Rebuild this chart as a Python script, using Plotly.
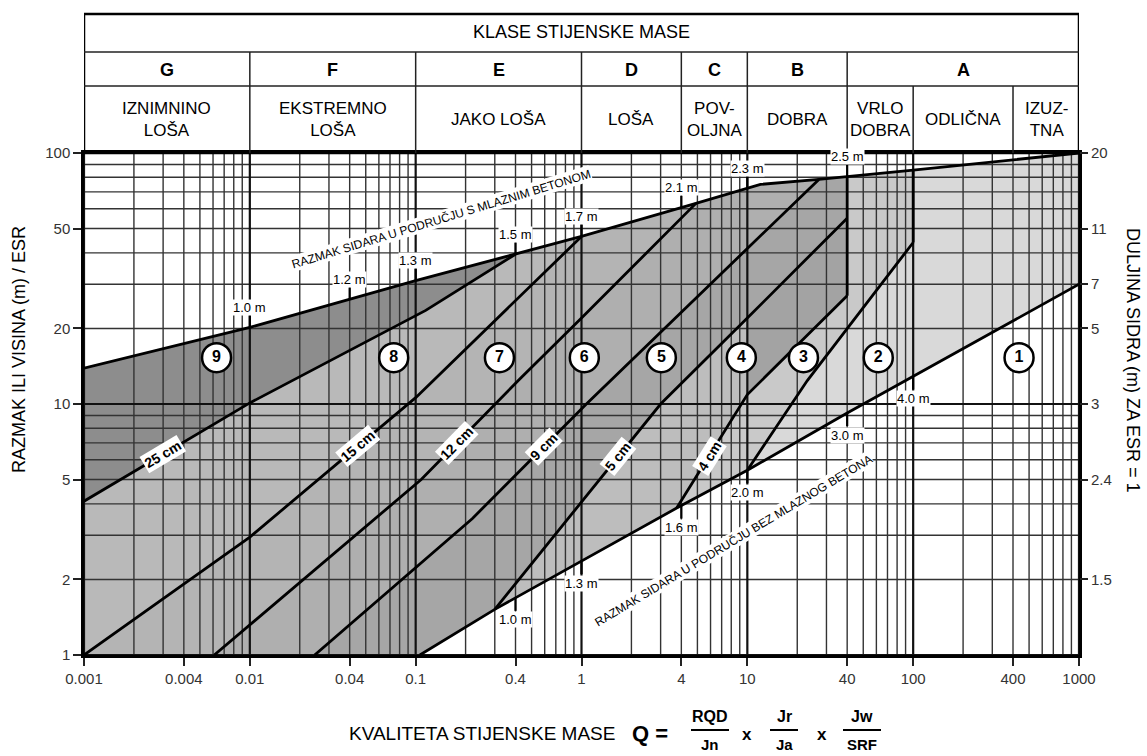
"""Q-sustav: dijagram podgrade (razmak ili visina / ESR prema kvaliteti Q)."""

import numpy as np
import plotly.graph_objects as go

FONT = "Arial, 'Liberation Sans', Helvetica, sans-serif"

# plot area inside the 1147 x 756 page
W, H = 1147, 756
ML, MR, MT, MB = 84, 68, 153, 101
PX_X = (W - ML - MR) / 6.0      # px per decade of Q
PX_Y = (H - MT - MB) / 2.0      # px per decade of spacing

# ---- granice (Q, razmak/ESR) ----
TOP_Q = [0.001, 0.01, 0.1, 0.4, 1, 4.9, 12, 27, 40, 100, 1000]
TOP_H = [13.9, 20.2, 31, 39.5, 46.5, 63, 75, 78.5, 80.5, 85.5, 100]

LOW_Q = [0.106, 0.3, 3.75, 10, 40, 1000]
LOW_H = [1, 1.52, 3.85, 5.45, 9.2, 30]

LA_Q = [0.001, 0.01, 0.115, 0.4]            # 25 cm
LA_H = [4.1, 10.1, 23.6, 39.5]
LB_Q = [0.001, 0.01, 0.1, 1]                # 15 cm
LB_H = [1, 2.95, 10.6, 46.5]
LC_Q = [0.0061, 0.108, 0.42, 1, 4.9]        # 12 cm
LC_H = [1, 5.0, 12.5, 22, 63]
LD_Q = [0.0246, 0.22, 1.07, 27]             # 9 cm
LD_H = [1, 3.5, 10, 78.5]
LE_Q = [0.3, 3.0, 10, 40]                   # 5 cm
LE_H = [1.52, 10, 22, 55]
LF_Q = [3.75, 10, 40]                       # 4 cm
LF_H = [3.85, 10.9, 27]
LG_Q = [10, 23, 100]
LG_H = [5.45, 12.4, 44]
V40_Q, V40_H = [40, 40], [27, 80.5]
V100_Q, V100_H = [100, 100], [44, 85.5]

# oznake razmaka sidara na granicama
TOP_TICK_Q = [0.01, 0.04, 0.1, 0.4, 1, 4, 10, 40]
TOP_TICK_TXT = ["1.0 m", "1.2 m", "1.3 m", "1.5 m", "1.7 m", "2.1 m", "2.3 m", "2.5 m"]
LOW_TICK_Q = [0.4, 1, 4, 10, 40, 100]
LOW_TICK_TXT = ["1.0 m", "1.3 m", "1.6 m", "2.0 m", "3.0 m", "4.0 m"]

# debljine mlaznog betona uz linije
CM_TXT = ["25 cm", "15 cm", "12 cm", "9 cm", "5 cm", "4 cm"]
CM_Q = [0.003, 0.0448, 0.177, 0.59, 1.67, 5.9]

# kategorije podgrade
CAT_N = ["9", "8", "7", "6", "5", "4", "3", "2", "1"]
CAT_Q = [0.0063, 0.0737, 0.32, 1.04, 3.03, 9.2, 21.8, 61.6, 435]
CAT_H = [15.3, 15.3, 15.3, 15.3, 15.3, 15.3, 15.3, 15.3, 15.3]

# osi
X_TICKS = [0.001, 0.004, 0.01, 0.04, 0.1, 0.4, 1, 4, 10, 40, 100, 400, 1000]
X_TXT = ["0.001", "0.004", "0.01", "0.04", "0.1", "0.4", "1", "4", "10", "40", "100", "400", "1000"]
Y_TICKS = [1, 2, 5, 10, 20, 50, 100]
R_TICKS = [2, 5, 10, 20, 30, 50, 100]
R_TXT = ["1.5", "2.4", "3", "5", "7", "11", "20"]

# zaglavlje
CLASS_TXT = ["G", "F", "E", "D", "C", "B", "A"]
CLASS_EDGES = [0.001, 0.01, 0.1, 1, 4, 10, 40, 1000]
DESC_TXT = ["IZNIMNINO<br>LOŠA", "EKSTREMNO<br>LOŠA", "JAKO LOŠA", "LOŠA", "POV-<br>OLJNA",
            "DOBRA", "VRLO<br>DOBRA", "ODLIČNA", "IZUZ-<br>TNA"]
DESC_EDGES = [0.001, 0.01, 0.1, 1, 4, 10, 40, 100, 400, 1000]


def xp(px):
    return (px - ML) / (W - ML - MR)


def yp(py):
    return (H - MB - py) / (H - MT - MB)


def on_line(qs, hs, q):
    return 10 ** np.interp(np.log10(q), np.log10(qs), np.log10(hs))


def angle(qs, hs, q):
    d = 0.03
    h0, h1 = on_line(qs, hs, q / 10 ** d), on_line(qs, hs, q * 10 ** d)
    dy = (np.log10(h1) - np.log10(h0)) * PX_Y
    return -np.degrees(np.arctan2(dy, 2 * d * PX_X))


def poly(*parts):
    q, h = [], []
    for pq, ph in parts:
        q += list(pq)
        h += list(ph)
    return q, h


def rev(q, h):
    return q[::-1], h[::-1]


def note(x, y, text, size, ref="paper", **kw):
    d = dict(xref=ref if ref == "paper" else "x", yref="paper" if ref == "paper" else "y",
             x=x, y=y, text=text, showarrow=False, xanchor="center", yanchor="middle",
             font=dict(size=size, color="black", family=FONT))
    d.update(kw)
    return d


fig = go.Figure()

regions = [
    (poly((LG_Q, LG_H), (TOP_Q[9:], TOP_H[9:]), rev(LOW_Q[3:], LOW_H[3:])), "#d9d9d9"),
    (poly((LF_Q, LF_H), (TOP_Q[8:10], TOP_H[8:10]), rev(LG_Q, LG_H), rev(LOW_Q[2:4], LOW_H[2:4])), "#c9c9c9"),
    (poly((LE_Q, LE_H), rev(LF_Q, LF_H), rev(LOW_Q[1:3], LOW_H[1:3])), "#bdbdbd"),
    (poly((LE_Q[2:], LE_H[2:]), rev(LF_Q[1:], LF_H[1:])), "#a3a3a3"),
    (poly((LD_Q, LD_H), (TOP_Q[7:9], TOP_H[7:9]), rev(LE_Q, LE_H), rev(LOW_Q[0:2], LOW_H[0:2])), "#a6a6a6"),
    (poly((LC_Q, LC_H), (TOP_Q[5:8], TOP_H[5:8]), rev(LD_Q, LD_H)), "#afafaf"),
    (poly((LB_Q, LB_H), (TOP_Q[4:6], TOP_H[4:6]), rev(LC_Q, LC_H)), "#b4b4b4"),
    (poly((LA_Q, LA_H), (TOP_Q[3:5], TOP_H[3:5]), rev(LB_Q, LB_H)), "#b9b9b9"),
    (poly((TOP_Q[0:4], TOP_H[0:4]), rev(LA_Q, LA_H)), "#8d8d8d"),
]
for (q, h), c in regions:
    fig.add_trace(go.Scatter(x=q, y=h, mode="lines", fill="toself", fillcolor=c,
                             line=dict(width=0), hoverinfo="skip", showlegend=False))

# mreža (iznad sjenčanja, kao u originalu)
GRID_Q = [m * 10.0 ** e for e in range(-3, 3) for m in range(1, 10)] + [1000]
GRID_H = [m * 10.0 ** e for e in range(0, 2) for m in range(1, 10)] + [100]
for major in (False, True):
    gx, gy = [], []
    for q in GRID_Q:
        if (abs(np.log10(q) - round(np.log10(q))) < 1e-9) == major:
            gx += [q, q, None]
            gy += [1, 100, None]
    for h in GRID_H:
        if (abs(np.log10(h) - round(np.log10(h))) < 1e-9) == major:
            gx += [0.001, 1000, None]
            gy += [h, h, None]
    fig.add_trace(go.Scatter(x=gx, y=gy, mode="lines", hoverinfo="skip", showlegend=False,
                             line=dict(color="#111" if major else "#333",
                                       width=2.2 if major else 1.4)))

# granice kategorija
for q, h in [(TOP_Q, TOP_H), (LOW_Q, LOW_H), (LA_Q, LA_H), (LB_Q, LB_H), (LC_Q, LC_H),
             (LD_Q, LD_H), (LE_Q, LE_H), (LF_Q, LF_H), (LG_Q, LG_H),
             (V40_Q, V40_H), (V100_Q, V100_H)]:
    fig.add_trace(go.Scatter(x=q, y=h, mode="lines", hoverinfo="skip", showlegend=False,
                             line=dict(color="black", width=2.8)))

# crtice razmaka na gornjoj i donjoj granici
tx, ty = [], []
for q in TOP_TICK_Q:
    h = on_line(TOP_Q, TOP_H, q)
    tx += [q, q, None]
    ty += [h, h * 10 ** (12 / PX_Y), None]
for q in LOW_TICK_Q:
    h = on_line(LOW_Q, LOW_H, q)
    tx += [q, q, None]
    ty += [h, h / 10 ** (13 / PX_Y), None]
fig.add_trace(go.Scatter(x=tx, y=ty, mode="lines", hoverinfo="skip", showlegend=False,
                         line=dict(color="black", width=2.2)))

ann = []
for q, t in zip(TOP_TICK_Q, TOP_TICK_TXT):
    h = on_line(TOP_Q, TOP_H, q) * 10 ** (20 / PX_Y)
    ann.append(note(np.log10(q), np.log10(h), t, 13, ref="data", bgcolor="white", borderpad=0))
for q, t in zip(LOW_TICK_Q, LOW_TICK_TXT):
    h = on_line(LOW_Q, LOW_H, q) / 10 ** (22 / PX_Y)
    ann.append(note(np.log10(q), np.log10(h), t, 13, ref="data", bgcolor="white", borderpad=0))

cm_lines = [(LA_Q, LA_H), (LB_Q, LB_H), (LC_Q, LC_H), (LD_Q, LD_H), (LE_Q, LE_H), (LF_Q, LF_H)]
for (lq, lh), q, t in zip(cm_lines, CM_Q, CM_TXT):
    h = on_line(lq, lh, q)
    ann.append(note(np.log10(q), np.log10(h), "<b>" + t + "</b>", 14, ref="data",
                    textangle=angle(lq, lh, q), bgcolor="white", borderpad=1))

ann.append(note(np.log10(0.143), np.log10(55), "RAZMAK SIDARA U PODRUČJU S MLAZNIM BETONOM", 12,
                ref="data", textangle=-17, bgcolor="white", borderpad=0))
ann.append(note(np.log10(8.2), np.log10(2.85), "RAZMAK SIDARA U PODRUČJU BEZ MLAZNOG BETONA", 12,
                ref="data", textangle=-31, bgcolor="white", borderpad=0))

fig.add_trace(go.Scatter(
    x=CAT_Q, y=CAT_H, mode="markers+text", text=["<b>" + n + "</b>" for n in CAT_N],
    textposition="middle center", textfont=dict(size=16, color="black", family=FONT),
    marker=dict(size=29, color="white", line=dict(color="black", width=2.5)),
    hoverinfo="skip", showlegend=False))

# prazan trag za desnu os
fig.add_trace(go.Scatter(x=[1], y=[10], yaxis="y2", mode="markers", opacity=0,
                         hoverinfo="skip", showlegend=False))

# zaglavlje
shapes = []
y_top, y_row1, y_row2 = yp(14), yp(52), yp(86)
shapes.append(dict(type="rect", xref="x", yref="paper", x0=0.001, x1=1000, y0=1, y1=y_top,
                   line=dict(color="black", width=2.5)))
for yy in (y_row1, y_row2):
    shapes.append(dict(type="line", xref="x", yref="paper", x0=0.001, x1=1000, y0=yy, y1=yy,
                       line=dict(color="#222", width=1.5)))
for q in CLASS_EDGES[1:-1]:
    shapes.append(dict(type="line", xref="x", yref="paper", x0=q, x1=q, y0=1, y1=y_row1,
                       line=dict(color="#222", width=1.5)))
for q in [100, 400]:
    shapes.append(dict(type="line", xref="x", yref="paper", x0=q, x1=q, y0=1, y1=y_row2,
                       line=dict(color="#222", width=1.5)))

ann.append(note(0.5, yp(32), "KLASE STIJENSKE MASE", 18))
for i, t in enumerate(CLASS_TXT):
    xc = (np.log10(CLASS_EDGES[i]) + np.log10(CLASS_EDGES[i + 1])) / 2
    ann.append(note(xc, yp(70), "<b>" + t + "</b>", 18, xref="x"))
for i, t in enumerate(DESC_TXT):
    xc = (np.log10(DESC_EDGES[i]) + np.log10(DESC_EDGES[i + 1])) / 2
    ann.append(note(xc, yp(119), t, 17, xref="x"))

# naslovi osi
ann.append(note(xp(19), yp(350), "RAZMAK ILI VISINA (m) / ESR", 18, textangle=-90))
ann.append(note(xp(1133), yp(360), "DULJINA SIDRA (m) ZA ESR = 1", 18, textangle=90))

# formula Q
ann.append(note(xp(482), yp(733), "KVALITETA STIJENSKE MASE", 19))
ann.append(note(xp(650), yp(733), "<b>Q =</b>", 22))
for xc, num, den, half in [(710, "RQD", "Jn", 19), (784, "Jr", "Ja", 14), (862, "Jw", "SRF", 19)]:
    ann.append(note(xp(xc), yp(716), "<b>" + num + "</b>", 16))
    ann.append(note(xp(xc), yp(744), "<b>" + den + "</b>", 15))
    shapes.append(dict(type="line", xref="paper", yref="paper", x0=xp(xc - half), x1=xp(xc + half),
                       y0=yp(730), y1=yp(730), line=dict(color="black", width=2)))
for xc in (747, 822):
    ann.append(note(xp(xc), yp(734), "<b>x</b>", 17))

axis_common = dict(type="log", ticks="outside", ticklen=8, tickwidth=1.5, tickcolor="#222",
                   showgrid=False, zeroline=False, tickfont=dict(size=15, color="#333"))

fig.update_layout(
    width=W, height=H,
    margin=dict(l=ML, r=MR, t=MT, b=MB, pad=0),
    paper_bgcolor="white", plot_bgcolor="white",
    font=dict(family=FONT, color="black"),
    showlegend=False,
    xaxis=dict(range=[-3, 3], tickvals=X_TICKS, ticktext=X_TXT, showline=True, linewidth=2.5,
               linecolor="black", mirror=True, **axis_common),
    yaxis=dict(range=[0, 2], tickvals=Y_TICKS, ticktext=[str(v) for v in Y_TICKS], showline=True,
               linewidth=2.5, linecolor="black", mirror=True, **axis_common),
    yaxis2=dict(range=[0, 2], overlaying="y", side="right", tickvals=R_TICKS, ticktext=R_TXT,
                showline=False, **axis_common),
    shapes=shapes,
    annotations=ann,
)

fig.write_html("out.html", config={"displayModeBar": False},
               post_script="document.body.style.margin='0px';")
